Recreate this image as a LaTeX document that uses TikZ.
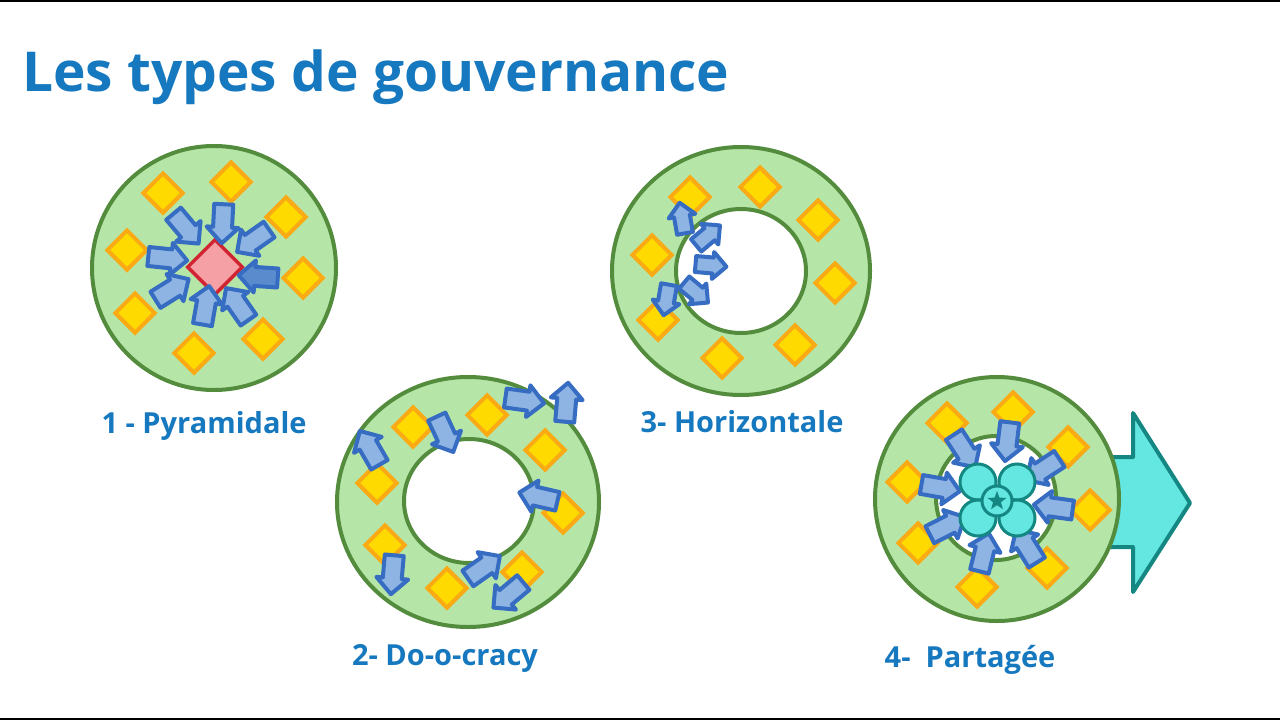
\documentclass[tikz,border=0pt]{standalone}
\usepackage{fontspec}
\setmainfont{Open Sans}
\usepackage{xcolor}
\usepackage{tikz}
\usetikzlibrary{shapes.geometric, shapes.arrows}
\definecolor{myblue}{RGB}{22,120,190}
\definecolor{ringfill}{RGB}{181,230,168}
\definecolor{ringline}{RGB}{84,140,62}
\definecolor{mygold}{RGB}{255,218,0}
\definecolor{myorange}{RGB}{250,170,20}
\definecolor{leadred}{RGB}{210,35,50}
\definecolor{leadpink}{RGB}{244,160,165}
\definecolor{arrowfill}{RGB}{142,180,227}
\definecolor{arrowdark}{RGB}{90,140,205}
\definecolor{arrowline}{RGB}{55,108,195}
\definecolor{tealfill}{RGB}{100,230,225}
\definecolor{tealline}{RGB}{20,135,130}
\tikzset{
  ringdisc/.style={fill=ringfill, draw=ringline, line width=4pt},
  ringhole/.style={fill=white, draw=ringline, line width=4pt},
  yellowdiamond/.style={diamond, draw=myorange, fill=mygold,
    minimum size=41pt, inner sep=0pt, line width=4pt},
  leaddiamond/.style={diamond, draw=leadred, fill=leadpink,
    minimum size=56pt, inner sep=0pt, line width=3.5pt},
  blockarrow/.style={single arrow, draw=arrowline, fill=arrowfill,
    line width=4pt, line join=round, inner sep=7.5pt,
    single arrow head extend=6.5pt, minimum height=39pt},
  smallarrow/.style={blockarrow, inner sep=6pt,
    single arrow head extend=5.5pt, minimum height=31pt},
  petal/.style={circle, draw=tealline, fill=tealfill,
    minimum size=36pt, inner sep=0pt, line width=3pt},
  hubstar/.style={star, star points=5, star point ratio=2.4,
    fill=tealline, minimum size=20pt, inner sep=0pt},
  bigarrow/.style={draw=tealline, fill=tealfill, line width=4pt,
    line join=round},
  titletext/.style={font=\fontsize{55}{64}\selectfont\bfseries,
    text=myblue, inner sep=0pt},
  typelabel/.style={font=\fontsize{29}{34}\selectfont\bfseries,
    text=myblue, inner sep=0pt}
}

\begin{document}
\begin{tikzpicture}[x=1pt, y=-1pt]
  \useasboundingbox (0,0) rectangle (1280,720);
  % Frame
  \fill[black] (0,0) rectangle (1280,1.5);
  \fill[black] (0,718) rectangle (1280,720);
  % Title
  \node[titletext, anchor=base west] (title) at (22,91) {Les types de gouvernance};

  % 1 - Pyramidale
  \draw[ringdisc] (214,268) circle [radius=122];
  \foreach \px/\py [count=\i] in {163/193, 231/182, 286/217, 127/250,
      303/278, 135/313, 194/353, 263/339}
    \node[yellowdiamond] (pyr\i) at (\px,\py) {};
  \node[leaddiamond] (pyrlead) at (215,267) {};
  \foreach \px/\py/\ang [count=\i] in {183/225/-50, 223/219/-93,
      257/238/-145, 163/258/-6, 168/292/32, 205/310/80, 240/308/125}
    \node[blockarrow, rotate=\ang] (pyra\i) at (\px,\py) {};
  \node[blockarrow, fill=arrowdark, rotate=176] (pyrlast) at (263,277) {};
  \node[typelabel, anchor=base] (pyrtext) at (204,433) {1 - Pyramidale};

  % 2- Do-o-cracy
  \draw[ringdisc] (468,502) ellipse [x radius=131, y radius=125];
  \draw[ringhole] (469,501) ellipse [x radius=65, y radius=62];
  \foreach \px/\py [count=\i] in {413/427, 487/415, 545/450, 377/483,
      563/513, 385/545, 447/588, 522/572}
    \node[yellowdiamond] (doc\i) at (\px,\py) {};
  \foreach \px/\py/\ang [count=\i] in {520/400/-8, 566/407/85,
      443/430/-65, 372/452/120, 543/498/167, 393/570/-95,
      480/570/35, 512/592/-140}
    \node[blockarrow, rotate=\ang] (doca\i) at (\px,\py) {};
  \node[typelabel, anchor=base] (doctext) at (445,665) {2- Do-o-cracy};

  % 3- Horizontale
  \draw[ringdisc] (741,271) ellipse [x radius=129, y radius=124];
  \draw[ringhole] (741,271) ellipse [x radius=65, y radius=62];
  \foreach \px/\py [count=\i] in {690/197, 760/187, 818/220, 652/255,
      835/283, 658/320, 722/358, 795/345}
    \node[yellowdiamond] (hor\i) at (\px,\py) {};
  \foreach \px/\py/\ang [count=\i] in {683/222/100, 705/238/40,
      707/265/-5, 693/290/-40, 667/296/-100}
    \node[smallarrow, rotate=\ang] (hora\i) at (\px,\py) {};
  \node[typelabel, anchor=base] (hortext) at (742,432) {3- Horizontale};

  % 4- Partagee
  \draw[bigarrow] (1095,457) -- (1133,457) -- (1133,413) -- (1190,503)
    -- (1133,592) -- (1133,547) -- (1095,547) -- cycle;
  \draw[ringdisc] (997,499) circle [radius=122];
  \draw[ringhole] (996,498) ellipse [x radius=60, y radius=62];
  \foreach \px/\py [count=\i] in {947/423, 1013/412, 1068/447, 907/482,
      1090/510, 918/543, 977/587, 1047/568}
    \node[yellowdiamond] (par\i) at (\px,\py) {};
  \foreach \px/\py/\ang [count=\i] in {962/447/-57, 1008/437/-97,
      1047/467/-147, 936/487/-10, 1058/508/172, 943/528/27,
      983/557/76, 1029/550/122}
    \node[blockarrow, rotate=\ang] (para\i) at (\px,\py) {};
  \node[petal] (petal1) at (978,482) {};
  \node[petal] (petal2) at (1017,482) {};
  \node[petal] (petal3) at (978,518) {};
  \node[petal] (petal4) at (1017,518) {};
  \node[petal, minimum size=30pt] (hub) at (997,501) {};
  \node[hubstar] (hubmark) at (hub) {};
  \node[typelabel, anchor=base] (partext) at (970,667) {4-\ \ Partagée};
\end{tikzpicture}
\end{document}
